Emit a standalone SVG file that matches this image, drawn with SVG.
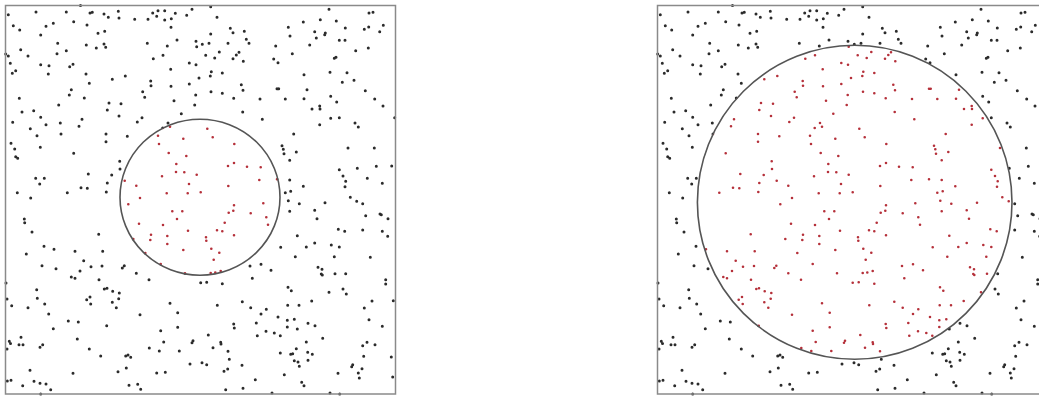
<svg xmlns="http://www.w3.org/2000/svg" xmlns:xlink="http://www.w3.org/1999/xlink" width="1039" height="396" viewBox="0 0 1039 396">
<style>
.blk{fill:none;stroke:#2b2b2b;stroke-width:3;stroke-linecap:round}
.red{fill:none;stroke:#b5303a;stroke-width:2.6;stroke-linecap:round}
.frame{fill:none;stroke:#8a8a8a;stroke-width:1.5}
.circ{fill:none;stroke:#555;stroke-width:1.6}
.bg{fill:#fff}
</style>
<defs>
<path id="dots" d="M80.5 5.5h.01M8.3 14.7h.01M36 12h.01M66.3 12h.01M90 13h.01M92.3 12.3h.01M104 14h.01M108.3 17.3h.01M118.3 11.3h.01M119 18h.01M134.7 19.3h.01M148 19.3h.01M152.7 13h.01M156.7 16.3h.01M158 10.7h.01M164.7 10.7h.01M164.7 20h.01M171.3 18.7h.01M175.3 13.3h.01M186.7 15.3h.01M192 9.3h.01M13.3 25.7h.01M19.7 30h.01M46 26.3h.01M53.3 23.3h.01M40.7 35h.01M73.7 21.7h.01M87 25h.01M104.7 31.3h.01M98 33.3h.01M171 27.3h.01M57.7 43.3h.01M86.3 45h.01M96.3 48h.01M104 44h.01M105.7 47.3h.01M147.3 43.3h.01M167.3 46h.01M177 40h.01M196 41.3h.01M196.7 46.7h.01M20.7 49.7h.01M5.7 54h.01M8.3 56h.01M28 56h.01M57 53.7h.01M66.3 50.7h.01M163 55.3h.01M153.3 58.7h.01M10.3 63.3h.01M40.7 64.7h.01M49 65.7h.01M73 64.3h.01M69.7 66.7h.01M189.3 63h.01M196 64.7h.01M15.7 70.7h.01M12.3 73.3h.01M48.3 74h.01M170.7 69.3h.01M86 74h.01M125.3 76h.01M112.3 79.3h.01M199 78h.01M89.3 83.3h.01M150.7 81h.01M151 85.7h.01M171 86.3h.01M189.3 84h.01M71.3 89.7h.01M69.3 95h.01M142.7 91.7h.01M144.7 97.3h.01M195.7 95h.01M19.3 98.3h.01M84.3 98h.01M174 100.7h.01M109 103h.01M121 103.7h.01M58.7 105h.01M194.7 105h.01M22 112h.01M33.7 110.7h.01M107.3 110h.01M119 116h.01M181.3 113.7h.01M40.7 117.3h.01M12.7 122.3h.01M46 124.7h.01M60.3 123h.01M82 119.3h.01M79 126.3h.01M137.3 122h.01M142 117.7h.01M168 123h.01M170 126.7h.01M162.7 128h.01M30.3 128.7h.01M61 134h.01M37 135.7h.01M106 134h.01M127.3 136.3h.01M106 141.7h.01M11 143.3h.01M14.7 149h.01M40.3 147.3h.01M73.7 153.3h.01M15.7 156.7h.01M17.7 158.3h.01M119.7 161.3h.01M120 169h.01M88.3 174h.01M111.7 175h.01M35.7 178.3h.01M44.3 178.3h.01M39.7 184h.01M107.3 183h.01M81 187.7h.01M87.3 188.3h.01M17.3 192.7h.01M67.3 192.7h.01M106.3 192h.01M30.7 198h.01M158 135.7h.01M183.3 138.7h.01M159 144h.01M168.7 153h.01M186.3 156h.01M176.3 164h.01M176 172h.01M184.3 172.3h.01M162 176.3h.01M196.7 174.7h.01M124.7 180.7h.01M136.3 185.7h.01M189 184h.01M200.7 192.3h.01M166.7 193.3h.01M187.7 193.3h.01M140 198h.01M210.7 6.7h.01M329 9.3h.01M369 13h.01M373 12.3h.01M217 17.3h.01M303.3 22h.01M320.3 19.7h.01M336.3 21h.01M383.3 25.3h.01M288.3 27.3h.01M230.3 28.3h.01M233 32.7h.01M244.3 31.3h.01M210.7 34h.01M314.7 31.7h.01M325.3 33h.01M324.7 34.7h.01M345.3 28h.01M364.3 29.3h.01M368.7 27h.01M379.7 31.7h.01M290 36h.01M316.3 38h.01M339.3 40.3h.01M345 40.3h.01M246.3 39.3h.01M249 43.3h.01M202.3 44.3h.01M209 43.3h.01M228 43.3h.01M275.7 46h.01M309.7 45h.01M355.7 50.7h.01M368.3 48h.01M239 52.3h.01M236.3 55h.01M219.3 52h.01M205.7 55.3h.01M214.7 58h.01M233 58.7h.01M243.3 61.3h.01M273.7 59h.01M278 62.7h.01M292.3 53.7h.01M334.3 58.3h.01M336 57.3h.01M211.3 71.7h.01M210.3 76h.01M222.3 73h.01M304 74.7h.01M330 72.3h.01M347 72.7h.01M342.3 82.3h.01M354 80.3h.01M241.3 84.7h.01M243 90.3h.01M277 88.7h.01M278.7 88.7h.01M307 89.7h.01M211 91.7h.01M222.3 93.3h.01M233.7 98.3h.01M260 99h.01M285.3 99h.01M304 98.7h.01M330.7 96.3h.01M336.7 102h.01M365.3 90.7h.01M374.7 99h.01M383 106h.01M319.7 106h.01M320 109h.01M312 109h.01M242.7 112h.01M262.3 119.3h.01M330.7 118.3h.01M339.3 117.7h.01M319.7 124.7h.01M355 123h.01M358.3 127h.01M394.7 117.7h.01M293.7 134h.01M282 145.7h.01M283.3 149.3h.01M284 153.7h.01M296.3 152h.01M348 148h.01M374.3 148h.01M289.7 160.3h.01M339.3 169.7h.01M357.3 168.3h.01M376.3 166.3h.01M391.7 166h.01M343 176h.01M345.7 181.3h.01M345 186.7h.01M367.3 178.3h.01M382.3 183.3h.01M289.7 180h.01M277 179.3h.01M303.3 186.3h.01M285.3 192.7h.01M290.7 191.3h.01M350.3 197.3h.01M207.3 128.7h.01M212.7 137.3h.01M234.3 144h.01M228 166h.01M234 163h.01M247 166.7h.01M260.7 167.3h.01M259.3 180h.01M228.3 186h.01M128.3 204.3h.01M172.3 211.3h.01M182.3 211.3h.01M177 219h.01M139 223.7h.01M163 225h.01M188 230.7h.01M151 234.7h.01M167.3 236h.01M150.3 240h.01M167.3 244h.01M183.3 250h.01M24.3 219h.01M24.7 222.7h.01M32 232h.01M98.7 234.3h.01M44 246.3h.01M54 249.3h.01M26.3 254h.01M75 251.3h.01M102.7 251.3h.01M133.3 239h.01M145.3 253h.01M83.7 260.7h.01M42 265.7h.01M56 268.7h.01M91 266.7h.01M102 266h.01M80 271h.01M122.3 268h.01M124.3 265.7h.01M136.3 273.3h.01M149 279.7h.01M160.7 264h.01M185 273.3h.01M71.3 277h.01M75 278.3h.01M99 279.7h.01M6 283h.01M36.7 289.7h.01M104.3 289h.01M107 288.3h.01M112.7 291.3h.01M119.3 293h.01M37.3 298.3h.01M7 299h.01M11.7 305.7h.01M28 307.7h.01M44.7 304h.01M86.7 299.7h.01M90 297h.01M90.7 304h.01M112.3 302.3h.01M118.7 298.7h.01M116.3 307.7h.01M48.7 314h.01M140 314.7h.01M170 303.3h.01M177.7 312.7h.01M68.3 321h.01M78.3 322h.01M106.7 325.7h.01M53.3 328.7h.01M177.7 327.3h.01M160.7 330.7h.01M21 337.3h.01M9.3 341.3h.01M10.5 343.5h.01M19 344.7h.01M23 344.7h.01M40 347.3h.01M42.7 344.7h.01M77.3 339h.01M163.7 342h.01M192 342.7h.01M193 340.7h.01M7 349h.01M89.3 349h.01M149.3 348h.01M159.3 351h.01M179.3 351h.01M100.7 356h.01M125.7 356h.01M128 355h.01M130.7 357.3h.01M190 364h.01M30 370.3h.01M73 373.3h.01M118 371.7h.01M126.3 368h.01M156.7 373h.01M165.3 372.3h.01M7.3 381h.01M11 380.3h.01M22.7 385.7h.01M34 381.3h.01M40 383.3h.01M46 384h.01M50.7 389.7h.01M40.7 394h.01M129 385.3h.01M137.7 384.3h.01M140.7 389.3h.01M234 205.3h.01M263.3 203.3h.01M233.3 210.7h.01M228.7 212.7h.01M250.7 213.3h.01M266.3 217.3h.01M224.7 222.7h.01M268 224.7h.01M217 230.3h.01M222.3 231.3h.01M234 235.3h.01M206 237.3h.01M206.3 240.7h.01M211.3 248.7h.01M219.3 252.7h.01M213.7 259.7h.01M210.7 273h.01M215.3 272.5h.01M220.7 271h.01M288.3 200.7h.01M299.3 203.7h.01M325 202.7h.01M356.7 201.3h.01M362.7 203.7h.01M289.7 211.3h.01M314.7 210.3h.01M317 218.7h.01M365.7 215.7h.01M380 214h.01M381.3 214.7h.01M388 218.7h.01M338.3 229.3h.01M344.7 231.3h.01M362.7 230h.01M382.3 231.3h.01M387.7 236.3h.01M297.3 235.7h.01M314.7 243h.01M306.3 247h.01M331.3 245h.01M339.3 247h.01M280.7 247.3h.01M295.3 256.7h.01M334.3 256.7h.01M370.3 257.3h.01M250 266h.01M261 264.3h.01M271 270.3h.01M318 267.3h.01M322 269.3h.01M321.3 274h.01M322.3 275h.01M335 273.7h.01M345.7 273.7h.01M252.3 278.3h.01M200.7 282.7h.01M206.7 282.3h.01M222.3 283.7h.01M385.7 279.7h.01M385.7 284h.01M288 287.3h.01M291.3 290.7h.01M329 292.3h.01M343 289h.01M346.3 294h.01M242.3 301.7h.01M217.3 305.3h.01M250.7 307.7h.01M266.3 309.3h.01M261 314h.01M287.7 305.3h.01M299 305.3h.01M311.7 301h.01M372 301h.01M393.3 300.7h.01M364.3 308h.01M278 317h.01M287.3 320.3h.01M294.3 319.3h.01M256.3 323h.01M233.7 324h.01M234.3 328h.01M287.3 327h.01M297.3 329h.01M308 323.3h.01M315 325.7h.01M369 319.7h.01M382.3 326.3h.01M208.3 335h.01M257.3 335.7h.01M266 331.3h.01M274.3 333h.01M280.3 335.7h.01M322.7 338.3h.01M220.7 342.3h.01M221 344h.01M213 347.7h.01M306.3 342h.01M362.7 345.7h.01M367 342.3h.01M375 344.7h.01M228 351.3h.01M229.3 359.3h.01M280.3 353h.01M290.7 354.3h.01M292.7 353.7h.01M296.3 348.7h.01M307.7 352.3h.01M312.3 354.3h.01M308 360.3h.01M294.3 360.7h.01M298 362h.01M299.3 366.3h.01M202 362.7h.01M206.7 364.7h.01M242 365.3h.01M363.7 356.3h.01M391.3 357h.01M352.7 364.7h.01M351.7 366.7h.01M362 368.7h.01M358.3 373h.01M359.3 378h.01M392.7 377h.01M224 371.3h.01M227.7 369h.01M338 373.3h.01M284.3 374.7h.01M255.3 379.7h.01M301.7 382.3h.01M304 385.7h.01M225.7 389.7h.01M243 388.3h.01M272 393h.01M330 393h.01M339.7 394h.01"/>
<clipPath id="cL" clipPathUnits="userSpaceOnUse"><ellipse cx="200" cy="197.2" rx="80" ry="78"/></clipPath>
<clipPath id="cR" clipPathUnits="userSpaceOnUse"><ellipse cx="202.7" cy="202.3" rx="157.3" ry="157"/></clipPath>
</defs>
<rect width="1039" height="396" fill="#fff"/>
<g id="panel-left">
<use xlink:href="#dots" href="#dots" class="blk"/>
<ellipse class="bg" cx="200" cy="197.2" rx="80" ry="78"/>
<use xlink:href="#dots" href="#dots" class="red" clip-path="url(#cL)"/>
<ellipse class="circ" cx="200" cy="197.2" rx="80" ry="78"/>
<rect class="frame" x="5.5" y="5.5" width="390" height="388.5"/>
</g>
<g id="panel-right" transform="translate(652,0)">
<use xlink:href="#dots" href="#dots" class="blk"/>
<ellipse class="bg" cx="202.7" cy="202.3" rx="157.3" ry="157"/>
<use xlink:href="#dots" href="#dots" class="red" clip-path="url(#cR)"/>
<ellipse class="circ" cx="202.7" cy="202.3" rx="157.3" ry="157"/>
<rect class="frame" x="5.5" y="5.5" width="390" height="388.5"/>
</g>
</svg>
